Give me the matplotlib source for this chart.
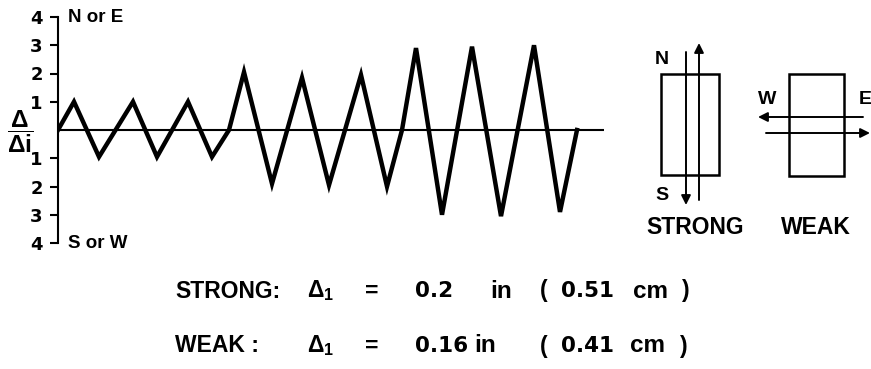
import matplotlib
matplotlib.use("Agg")
import matplotlib.pyplot as plt
from matplotlib.patches import Rectangle

# --- loading history: normalised displacement vs. loading step ---

steps = [0.0, 1.6, 4.1, 7.5, 9.9, 13.0, 15.4, 17.1, 18.6, 21.4, 24.4,
         27.1, 30.3, 32.9, 34.4, 35.8, 38.4, 41.4, 44.3, 47.6, 50.2, 51.9]
ratio = [0.0, 1.0, -0.95, 1.0, -0.95, 1.0, -0.95, 0.0, 2.05, -1.9, 1.85,
         -1.95, 1.95, -2.0, 0.0, 2.9, -3.0, 2.95, -3.05, 3.0, -2.9, 0.0]
step_max = 54.6

tick_vals = [-4, -3, -2, -1, 1, 2, 3, 4]
tick_labels = ["4", "3", "2", "1", "1", "2", "3", "4"]

# reference displacements per direction
directions = ["STRONG", "WEAK"]
delta_in = ["0.2", "0.16"]
delta_cm = ["0.51", "0.41"]

plt.rcParams.update({
    "font.family": "Liberation Sans",
    "font.weight": "bold",
    "mathtext.fontset": "custom",
    "mathtext.rm": "Liberation Sans:bold",
    "mathtext.it": "Liberation Sans:bold",
    "mathtext.bf": "Liberation Sans:bold",
})
NUM = "DejaVu Sans"   # wider numerals

W, H = 871, 369
fig = plt.figure(figsize=(W / 100, H / 100), dpi=100)

# overlay in pixel units for the sketches and captions
ov = fig.add_axes([0, 0, 1, 1])
ov.set_xlim(0, W)
ov.set_ylim(H, 0)
ov.axis("off")

# --- main history axes ---
ax = fig.add_axes([58 / W, 1 - 243 / H, 546 / W, 226 / H])
ax.patch.set_alpha(0)
ax.plot(steps, ratio, color="k", lw=3.2, solid_joinstyle="miter", zorder=3)
ax.axhline(0, color="k", lw=1.5, zorder=2)
ax.set_xlim(0, step_max)
ax.set_ylim(-4, 4)
for s in ["top", "right", "bottom"]:
    ax.spines[s].set_visible(False)
ax.spines["left"].set_linewidth(1.5)
ax.set_xticks([])
ax.set_yticks(tick_vals)
ax.set_yticklabels(tick_labels, fontfamily=NUM, fontweight="bold")
ax.tick_params(axis="y", length=6, width=1.5, pad=5, labelsize=13)
ax.text(0.018, 4, "N or E", fontsize=13.5, va="center", ha="left",
        transform=ax.get_yaxis_transform())
ax.text(0.018, -4, "S or W", fontsize=13.5, va="center", ha="left",
        transform=ax.get_yaxis_transform())

# y label as a stacked fraction
ov.text(20, 132, r"$\dfrac{\Delta}{\Delta i}$", fontsize=17.5,
        ha="center", va="center")

# --- element sketches ---
lw_box = 1.8
ov.add_patch(Rectangle((661, 74), 58, 101, fill=False, lw=lw_box, ec="k"))
ov.add_patch(Rectangle((789, 74), 55, 102, fill=False, lw=lw_box, ec="k"))

arrow = dict(arrowstyle="-|>", lw=1.4, color="k", mutation_scale=14,
             shrinkA=0, shrinkB=0)
ov.annotate("", xy=(686, 205), xytext=(686, 52), arrowprops=arrow)
ov.annotate("", xy=(699, 43), xytext=(699, 200), arrowprops=arrow)
ov.annotate("", xy=(758, 117), xytext=(863, 117), arrowprops=arrow)
ov.annotate("", xy=(870, 133), xytext=(766, 133), arrowprops=arrow)

ov.text(662, 60, "N", fontsize=14, ha="center", va="center")
ov.text(662, 195, "S", fontsize=14, ha="center", va="center")
ov.text(767, 100, "W", fontsize=14, ha="center", va="center")
ov.text(859, 100, "E", fontsize=14, ha="left", va="center")
ov.text(695, 228, directions[0], fontsize=16.5, ha="center", va="center")
ov.text(816, 228, directions[1], fontsize=16.5, ha="center", va="center")

# --- reference displacement captions ---
rows = [
    dict(y=291, name="STRONG:", din=delta_in[0], in_x=490, dcm=delta_cm[0],
         cm_x=633, close_x=682),
    dict(y=346, name="WEAK :", din=delta_in[1], in_x=474, dcm=delta_cm[1],
         cm_x=630, close_x=680),
]
fs = 16.5
fs_num = 15.5
for r in rows:
    y = r["y"]
    ov.text(175, y, r["name"], fontsize=fs, ha="left", va="center")
    ov.text(307, y, r"$\Delta_1$", fontsize=fs, ha="left", va="center")
    ov.text(372, y, "=", fontsize=fs, ha="center", va="center")
    ov.text(415, y, r["din"], fontsize=fs_num, ha="left", va="center",
            fontfamily=NUM)
    ov.text(r["in_x"], y, "in", fontsize=fs + 1, ha="left", va="center")
    ov.text(540, y, "(", fontsize=fs, ha="left", va="center")
    ov.text(561, y, r["dcm"], fontsize=fs_num, ha="left", va="center",
            fontfamily=NUM)
    ov.text(r["cm_x"], y, "cm", fontsize=fs + 1, ha="left", va="center")
    ov.text(r["close_x"], y, ")", fontsize=fs, ha="left", va="center")

fig.savefig("out.png", dpi=100)
